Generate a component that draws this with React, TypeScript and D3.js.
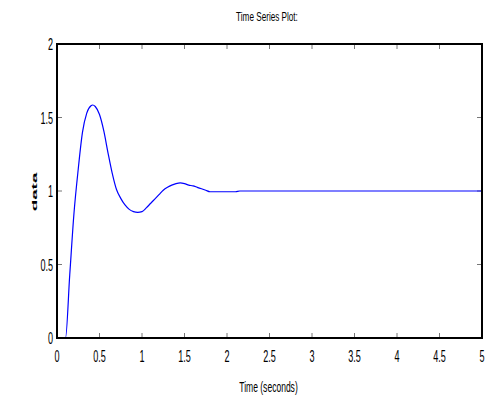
import React from "react";
import * as d3 from "d3";

const timeS = [0, 0.1, 0.15, 0.2, 0.25, 0.3, 0.35, 0.4, 0.42, 0.45, 0.5, 0.55, 0.6, 0.65, 0.7, 0.75, 0.8, 0.85, 0.9, 0.95, 1.0, 1.05, 1.1, 1.15, 1.2, 1.25, 1.3, 1.35, 1.4, 1.45, 1.5, 1.55, 1.6, 1.65, 1.7, 1.75, 1.8, 1.9, 2.0, 2.1, 2.15, 5.0];
const dataV = [0, 0, 0.43, 0.85, 1.15, 1.40, 1.53, 1.58, 1.585, 1.575, 1.52, 1.41, 1.26, 1.12, 1.01, 0.95, 0.905, 0.875, 0.86, 0.855, 0.86, 0.885, 0.915, 0.945, 0.975, 1.005, 1.025, 1.04, 1.05, 1.055, 1.05, 1.04, 1.035, 1.025, 1.015, 1.005, 0.995, 0.995, 0.995, 0.995, 1.0, 1.0];
const xTicks = [0, 0.5, 1, 1.5, 2, 2.5, 3, 3.5, 4, 4.5, 5];
const yTicks = [0, 0.5, 1, 1.5, 2];

const W = 495, H = 397;
const L = 57, R = 482, T = 44, B = 338;
const FONT = "'Liberation Sans', Arial, sans-serif";

function NText({ x, y, anchor, size, sx, children, bold }: any) {
  return (
    <text
      transform={`translate(${x},${y}) scale(${sx},1)`}
      textAnchor={anchor}
      fontSize={size}
      fontFamily={FONT}
      fontWeight={bold ? "bold" : "normal"}
      fill="#000"
    >
      {children}
    </text>
  );
}

export default function App() {
  const x = d3.scaleLinear().domain([0, 5]).range([L, R]);
  const y = d3.scaleLinear().domain([0, 2]).range([B, T]);
  const line = d3
    .line<number>()
    .x((_, i) => x(timeS[i]))
    .y((d) => y(d))
    .curve(d3.curveMonotoneX);
  return (
    <svg width={W} height={H} style={{ position: "absolute", left: 0, top: 0, background: "#fff" }} fontFamily={FONT}>
      <rect x={0} y={0} width={W} height={H} fill="#fff" />
      {xTicks.map((t) => (
        <g key={"x" + t}>
          <line x1={x(t)} x2={x(t)} y1={B} y2={B - 5} stroke="#777" strokeWidth={1} />
          <line x1={x(t)} x2={x(t)} y1={T} y2={T + 5} stroke="#777" strokeWidth={1} />
          <NText x={x(t)} y={362} anchor="middle" size={16.5} sx={0.55}>{t}</NText>
        </g>
      ))}
      {yTicks.map((t) => (
        <g key={"y" + t}>
          <line x1={L} x2={L + 5} y1={y(t)} y2={y(t)} stroke="#777" strokeWidth={1} />
          <line x1={R} x2={R - 5} y1={y(t)} y2={y(t)} stroke="#777" strokeWidth={1} />
          <NText x={53} y={y(t) + 6} anchor="end" size={16.5} sx={0.55}>{t}</NText>
        </g>
      ))}
      <path d={line(dataV) || ""} fill="none" stroke="#0000ff" strokeWidth={1.2} />
      <rect x={L} y={T} width={R - L} height={B - T} fill="none" stroke="#000" strokeWidth={2} />
      <NText x={267} y={21} anchor="middle" size={12} sx={0.68}>Time Series Plot:</NText>
      <NText x={268.5} y={392} anchor="middle" size={14} sx={0.61}>Time (seconds)</NText>
      <text
        transform="translate(37,192) rotate(-90) scale(1.45,0.62)"
        textAnchor="middle"
        fontSize={13}
        fontWeight="bold"
        fontFamily={FONT}
        fill="#000"
      >
        data
      </text>
    </svg>
  );
}
